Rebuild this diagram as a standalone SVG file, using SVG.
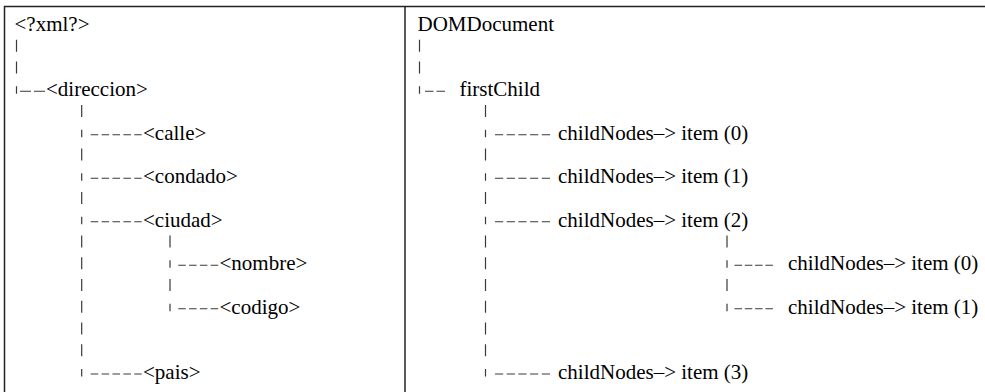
<svg xmlns="http://www.w3.org/2000/svg" width="985" height="392" viewBox="0 0 985 392">
<style>
text{font-family:'Liberation Serif',Tinos,'Times New Roman',Times,serif;font-size:21px;fill:#000}
.frame{stroke:#222;stroke-width:1.5;fill:none}
.p{stroke:#3a3a3a;stroke-width:1.2;fill:none}
.d1{stroke:#3a3a3a;stroke-width:1.2;stroke-dasharray:7.5 3.4;fill:none}
</style>
<rect width="985" height="392" fill="#fff"/>
<g id="frame">
<line class="frame" x1="4" y1="6.5" x2="985" y2="6.5"/>
<line class="frame" x1="4.5" y1="6" x2="4.5" y2="392"/>
<line class="frame" x1="405" y1="6" x2="405" y2="392"/>
</g>
<g id="connectors">
<path class="p" d="M16.5 39.75V51.75M16.5 61.5V73.5M16.5 86.25V93.75"/>
<line class="p" x1="20" y1="91.25" x2="45" y2="91.25" stroke-dasharray="11 3"/>
<path class="p" d="M81.7 105V117M81.7 129.75V137.25M81.7 148.5V160.5M81.7 173.25V180.75M81.7 192V204M81.7 216.75V224.25M81.7 235.5V247.5M81.7 257.25V269.25M81.7 279V291M81.7 300.75V312.75M81.7 322.5V334.5M81.7 344.25V356.25M81.7 369V376.5"/>
<line class="d1" x1="90.7" y1="134.75" x2="141.7" y2="134.75"/>
<line class="d1" x1="90.7" y1="178.25" x2="141.7" y2="178.25"/>
<line class="d1" x1="90.7" y1="221.75" x2="141.7" y2="221.75"/>
<line class="d1" x1="90.7" y1="374" x2="141.7" y2="374"/>
<path class="p" d="M170 235.5V247.5M170 260.25V267.75M170 279V291M170 303.75V311.25"/>
<line class="p" x1="178.3" y1="265.25" x2="218.3" y2="265.25" stroke-dasharray="7.5 3.3"/>
<line class="p" x1="178.3" y1="308.75" x2="218.3" y2="308.75" stroke-dasharray="7.5 3.3"/>
<path class="p" d="M419.5 39.75V51.75M419.5 61.5V73.5M419.5 86.25V93.75"/>
<line class="p" x1="425" y1="91.25" x2="445" y2="91.25" stroke-dasharray="8.5 3"/>
<path class="p" d="M485.5 105V117M485.5 129.75V137.25M485.5 148.5V160.5M485.5 173.25V180.75M485.5 192V204M485.5 216.75V224.25M485.5 235.5V247.5M485.5 257.25V269.25M485.5 279V291M485.5 300.75V312.75M485.5 322.5V334.5M485.5 344.25V356.25M485.5 369V376.5"/>
<line class="p" x1="495" y1="134.75" x2="550" y2="134.75" stroke-dasharray="8.2 3.5"/>
<line class="p" x1="495" y1="178.25" x2="550" y2="178.25" stroke-dasharray="8.2 3.5"/>
<line class="p" x1="495" y1="221.75" x2="550" y2="221.75" stroke-dasharray="8.2 3.5"/>
<line class="p" x1="495" y1="374" x2="550" y2="374" stroke-dasharray="8.2 3.5"/>
<path class="p" d="M727 235.5V247.5M727 260.25V267.75M727 279V291M727 303.75V311.25"/>
<line class="p" x1="734.5" y1="265.25" x2="773" y2="265.25" stroke-dasharray="7.5 2.8"/>
<line class="p" x1="734.5" y1="308.75" x2="773" y2="308.75" stroke-dasharray="7.5 2.8"/>
</g>
<g id="xml"><text x="14.5" y="31">&lt;?xml?&gt;</text></g>
<g id="direccion"><text x="46" y="96.25">&lt;direccion&gt;</text></g>
<g id="calle"><text x="143" y="139.75">&lt;calle&gt;</text></g>
<g id="condado"><text x="143" y="183.25">&lt;condado&gt;</text></g>
<g id="ciudad"><text x="143" y="226.75">&lt;ciudad&gt;</text></g>
<g id="nombre"><text x="219.5" y="270.25">&lt;nombre&gt;</text></g>
<g id="codigo"><text x="219.5" y="313.75">&lt;codigo&gt;</text></g>
<g id="pais"><text x="143" y="379">&lt;pais&gt;</text></g>
<g id="domdocument"><text x="417.5" y="31">DOMDocument</text></g>
<g id="firstchild"><text x="459.5" y="96.25">firstChild</text></g>
<g id="item0"><text x="558" y="139.75">childNodes–&gt; item (0)</text></g>
<g id="item1"><text x="558" y="183.25">childNodes–&gt; item (1)</text></g>
<g id="item2"><text x="558" y="226.75">childNodes–&gt; item (2)</text></g>
<g id="item2-0"><text x="788" y="270.25">childNodes–&gt; item (0)</text></g>
<g id="item2-1"><text x="788" y="313.75">childNodes–&gt; item (1)</text></g>
<g id="item3"><text x="558" y="379">childNodes–&gt; item (3)</text></g>
</svg>
